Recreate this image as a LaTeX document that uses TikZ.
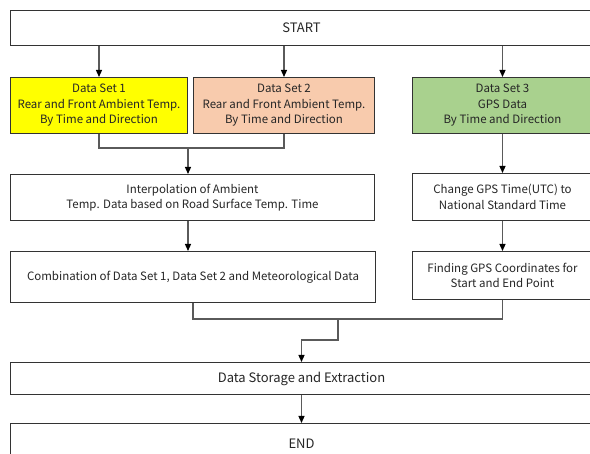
\documentclass[tikz,border=0pt]{standalone}
\usepackage{fontspec}
\setmainfont{Noto Sans CJK KR}
\usetikzlibrary{arrows.meta,calc}
\definecolor{setone}{HTML}{FFFF00}
\definecolor{settwo}{HTML}{F8CBAD}
\definecolor{setthree}{HTML}{A9D18E}
\definecolor{inkline}{HTML}{5A5A5A}
\definecolor{boxline}{HTML}{333333}
\begin{document}
\begin{tikzpicture}[x=1pt,y=-1pt,
  box/.style={draw=boxline, line width=1pt, anchor=north west, inner sep=0pt,
    align=center, text=black!85, font=\fontsize{11.5}{15.5}\selectfont},
  bigbox/.style={box, font=\fontsize{13}{16}\selectfont},
  link/.style={draw=inkline, line width=1.2pt},
  arr/.style={link, -{Triangle[width=6pt,length=7pt,color=black]}},
]
\clip (0,0) rectangle (590,454);
\fill[white] (0,0) rectangle (590,454);

% process boxes
\node[bigbox, minimum width=582pt, minimum height=35pt] (start) at (10,10) {START};
\node[box, fill=setone, minimum width=177pt, minimum height=56pt] (ds1) at (10,77)
  {Data Set 1\\Rear and Front Ambient Temp.\\By Time and Direction};
\node[box, fill=settwo, minimum width=181pt, minimum height=56pt] (ds2) at (193,77)
  {Data Set 2\\Rear and Front Ambient Temp.\\By Time and Direction};
\node[box, fill=setthree, minimum width=180pt, minimum height=56pt] (ds3) at (412,77)
  {Data Set 3\\GPS Data\\By Time and Direction};
\node[box, minimum width=364pt, minimum height=46pt] (interp) at (10,174)
  {Interpolation of Ambient\\Temp. Data based on Road Surface Temp. Time};
\node[box, minimum width=180pt, minimum height=47pt] (change) at (412,173)
  {Change GPS Time(UTC) to\\National Standard Time};
\node[box, minimum width=365pt, minimum height=51pt] (comb) at (10,251)
  {Combination of Data Set 1, Data Set 2 and Meteorological Data};
\node[box, minimum width=180pt, minimum height=48pt] (find) at (412,251)
  {Finding GPS Coordinates for\\Start and End Point};
\node[bigbox, minimum width=582pt, minimum height=32pt] (store) at (10,362)
  {Data Storage and Extraction};
\node[bigbox, minimum width=582pt, minimum height=40pt] (finish) at (10,423) {END};

% junction points
\coordinate (j1) at (188,148);
\coordinate (j2) at (338,319);

% connectors
\draw[arr] (ds1.north |- start.south) -- (ds1.north);
\draw[arr] (ds2.north |- start.south) -- (ds2.north);
\draw[arr] (ds3.north |- start.south) -- (ds3.north);
\draw[link] (ds1.south) |- (j1) -| (ds2.south);
\draw[arr] (j1) -- (j1 |- interp.north);
\draw[arr] (j1 |- interp.south) -- (j1 |- comb.north);
\draw[arr] (ds3.south) -- (change.north);
\draw[arr] (change.south) -- (find.north);
\draw[link] (comb.south) |- (j2) -| (find.south);
\draw[arr] (j2) -- ++(0,21) -| (store.north);
\draw[arr] (store.south) -- (finish.north);
\end{tikzpicture}
\end{document}
